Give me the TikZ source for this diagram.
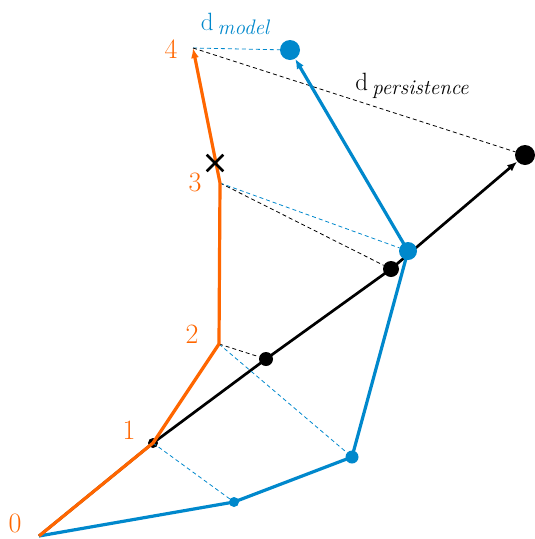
\documentclass[tikz,border=0pt]{standalone}
\usepackage{tikz}
\usetikzlibrary{arrows.meta,shapes.misc}
\definecolor{obsorange}{RGB}{255,102,0}
\definecolor{modelblue}{RGB}{0,136,204}
\newcommand{\dlabel}[1]{d\,\raisebox{-4pt}{\fontsize{21}{23}\selectfont\itshape #1}}

\begin{document}
\begin{tikzpicture}[x=1pt,y=-1pt,font=\fontsize{25}{28}\selectfont,
    dot/.style={circle,fill,inner sep=0pt,minimum size=#1},
    proj/.style={line width=0.8pt,dash pattern=on 4pt off 3pt},
    track/.style={line width=3.2pt,line join=round},
    num/.style={obsorange,inner sep=0pt,font=\fontsize{28}{32}\selectfont},
    tip/.style={-{Latex[length=10pt,width=8pt]}}]
  \useasboundingbox (0,0) rectangle (535,539);
  % observed positions
  \coordinate (o0) at (39,536);
  \coordinate (o1) at (153,443);
  \coordinate (o2) at (219,344);
  \coordinate (o3) at (220,183);
  \coordinate (o4) at (193,48);
  % persistence forecast
  \node[dot=10pt] (p1) at (153,443) {};
  \node[dot=14pt] (p2) at (266,359) {};
  \node[dot=16pt] (p3) at (391,269) {};
  \node[dot=20pt] (p4) at (525,155) {};
  \draw[tip,line width=2.7pt,line join=round] (o0) -- (p1.center) -- (p2.center)
    -- (p3.center) -- (p4);
  % model forecast
  \node[dot=10pt,modelblue] (m1) at (234,502) {};
  \node[dot=13pt,modelblue] (m2) at (352,457) {};
  \node[dot=18pt,modelblue] (m3) at (408,251) {};
  \node[dot=20pt,modelblue] (m4) at (290,50) {};
  % distances
  \draw[proj,modelblue] (o1) -- (m1);
  \draw[proj,modelblue] (o2) -- (m2);
  \draw[proj] (o2) -- (p2);
  \draw[proj] (o3) -- (p3);
  \draw[proj,modelblue] (o3) -- (m3);
  \draw[proj,modelblue] (o4) -- (m4);
  \draw[proj] (o4) -- (p4);
  % model track
  \draw[track,tip,modelblue] (o0) -- (m1.center) -- (m2.center)
    -- (m3.center) -- (m4);
  % observed track
  \draw[track,tip,obsorange] (o0) -- (o1) -- (o2) -- (o3) -- (o4);
  \node[cross out,draw,line width=2.6pt,minimum size=14pt,inner sep=0pt]
    (miss) at (215,163) {};
  % labels
  \node[num] (l0) at (15,523) {0};
  \node[num] (l1) at (129,430) {1};
  \node[num] (l2) at (192,334) {2};
  \node[num] (l3) at (195,182) {3};
  \node[num] (l4) at (171,49) {4};
  \node[modelblue] (dm) at (235,24) {\dlabel{model}};
  \node (dp) at (412,86) {\dlabel{persistence}};
\end{tikzpicture}
\end{document}
